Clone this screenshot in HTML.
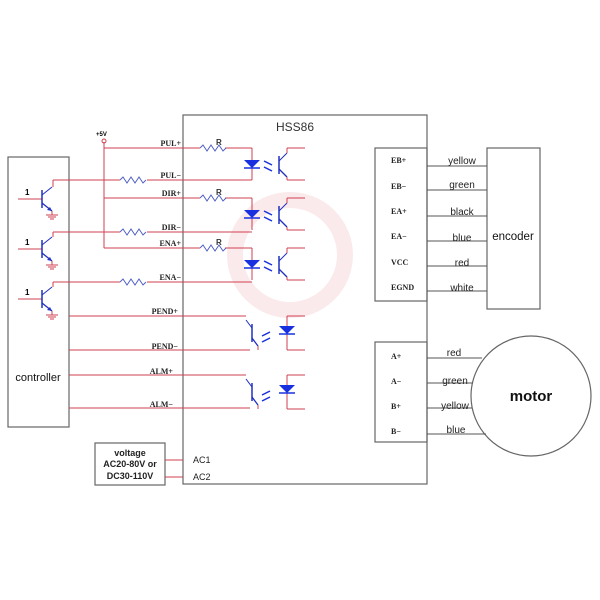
<!DOCTYPE html>
<html><head><meta charset="utf-8"><style>html,body{margin:0;padding:0;background:#fff}svg{display:block}</style></head><body>
<svg width="600" height="600" viewBox="0 0 600 600" xmlns="http://www.w3.org/2000/svg" font-family="Liberation Sans, sans-serif">
<defs>
<g id="rz"><path d="M0,0 l3,-3 l4,6 l4,-6 l4,6 l4,-6 l4,6 l3,-3" fill="none" stroke="#5060c0" stroke-width="1"/></g>
<g id="npn">
<line x1="0" y1="0" x2="24" y2="0" stroke="#d04050" stroke-width="1"/>
<line x1="24" y1="-9" x2="24" y2="9" stroke="#2030c0" stroke-width="1.5"/>
<line x1="24" y1="-4" x2="34" y2="-12" stroke="#2030c0" stroke-width="1"/>
<line x1="24" y1="4" x2="34" y2="12" stroke="#2030c0" stroke-width="1.3"/>
<polygon points="34,12 29,11 32,8" fill="#2030c0"/>
<line x1="34" y1="12" x2="34" y2="16" stroke="#d04050"/>
<line x1="28" y1="16" x2="40" y2="16" stroke="#d04050"/>
<line x1="30" y1="18" x2="38" y2="18" stroke="#d04050"/>
<line x1="32" y1="20" x2="36" y2="20" stroke="#d04050"/>
<text x="7" y="-4" font-size="8" font-weight="bold">1</text>
</g>
<g id="optin">
<line x1="0" y1="0" x2="0" y2="32" stroke="#d04050"/>
<polygon points="-8,12 8,12 0,20" fill="#1830e0"/>
<line x1="-8" y1="20" x2="8" y2="20" stroke="#1830e0" stroke-width="1.5"/>
<line x1="12" y1="13" x2="20" y2="17" stroke="#1830e0" stroke-width="1.5"/>
<line x1="12" y1="19" x2="20" y2="23" stroke="#1830e0" stroke-width="1.5"/>
<line x1="27" y1="8" x2="27" y2="26" stroke="#2030c0" stroke-width="1.5"/>
<line x1="27" y1="13" x2="35" y2="5" stroke="#2030c0"/>
<line x1="35" y1="5" x2="35" y2="0" stroke="#d04050"/>
<line x1="27" y1="21" x2="35" y2="29" stroke="#2030c0" stroke-width="1.3"/>
<line x1="35" y1="29" x2="35" y2="32" stroke="#d04050"/>
<line x1="35" y1="0" x2="53" y2="0" stroke="#d04050"/>
<line x1="35" y1="32" x2="53" y2="32" stroke="#d04050"/>
</g>
<g id="optout">
<line x1="0" y1="8" x2="0" y2="26" stroke="#2030c0" stroke-width="1.5"/>
<line x1="0" y1="12" x2="-6" y2="4" stroke="#2030c0"/>
<line x1="0" y1="22" x2="6" y2="30" stroke="#2030c0" stroke-width="1.3"/>
<line x1="6" y1="30" x2="6" y2="34" stroke="#d04050"/>
<line x1="10" y1="20" x2="18" y2="16" stroke="#1830e0" stroke-width="1.5"/>
<line x1="10" y1="26" x2="18" y2="22" stroke="#1830e0" stroke-width="1.5"/>
<line x1="35" y1="0" x2="35" y2="34" stroke="#d04050"/>
<polygon points="27,10 43,10 35,18" fill="#1830e0"/>
<line x1="27" y1="18" x2="43" y2="18" stroke="#1830e0" stroke-width="1.5"/>
<line x1="35" y1="0" x2="53" y2="0" stroke="#d04050"/>
<line x1="35" y1="34" x2="53" y2="34" stroke="#d04050"/>
</g>
</defs>
<circle cx="290" cy="255" r="55" fill="none" stroke="#fbeaec" stroke-width="16"/>
<g fill="none" stroke="#666" stroke-width="1.2">
<rect x="183" y="115" width="244" height="369"/>
<rect x="8" y="157" width="61" height="270"/>
<rect x="375" y="148" width="52" height="153"/>
<rect x="487" y="148" width="53" height="161"/>
<rect x="375" y="342" width="52" height="100"/>
<rect x="95" y="443" width="70" height="42"/>
<circle cx="531" cy="396" r="60"/>
</g>
<g stroke="#d04050" stroke-width="1" fill="none">
<path d="M104,148 H200 M225,148 H252"/>
<path d="M104,198 H200 M225,198 H252"/>
<path d="M104,248 H200 M225,248 H252"/>
<path d="M104,142 V248"/>
<path d="M53,180 H120 M147,180 H252"/>
<path d="M53,232 H120 M147,232 H252"/>
<path d="M53,282 H120 M147,282 H252"/>
<path d="M53,180 V187 M53,232 V237 M53,282 V287"/>
<path d="M69,316 H246 M69,350 H250 M69,375 H246 M69,408 H250"/>
<path d="M165,460 H183 M165,477 H183"/>
</g>
<circle cx="104" cy="141" r="2" fill="none" stroke="#d04050"/>
<text x="96" y="136" font-size="6" font-weight="bold">+5V</text>
<use href="#rz" x="200" y="148"/><use href="#rz" x="200" y="198"/><use href="#rz" x="200" y="248"/>
<use href="#rz" x="120" y="180"/><use href="#rz" x="120" y="232"/><use href="#rz" x="120" y="282"/>
<g font-size="8" font-weight="bold" fill="#333"><text x="216" y="145">R</text><text x="216" y="195">R</text><text x="216" y="245">R</text></g>
<use href="#npn" x="18" y="199"/><use href="#npn" x="18" y="249"/><use href="#npn" x="18" y="299"/>
<g font-family="Liberation Serif, serif" font-size="8" font-weight="bold" fill="#222" text-anchor="end">
<text x="181" y="146">PUL+</text><text x="181" y="178">PUL−</text><text x="181" y="196">DIR+</text><text x="181" y="230">DIR−</text><text x="181" y="246">ENA+</text><text x="181" y="280">ENA−</text><text x="178" y="314">PEND+</text><text x="178" y="349">PEND−</text><text x="173" y="374">ALM+</text><text x="173" y="407">ALM−</text>
</g>
<use href="#optin" x="252" y="148"/><use href="#optin" x="252" y="198"/><use href="#optin" x="252" y="248"/>
<use href="#optout" x="252" y="316"/><use href="#optout" x="252" y="375"/>
<text x="276" y="131" font-size="12" fill="#333">HSS86</text>
<g stroke="#555" stroke-width="1">
<path d="M427,166H487M427,190H487M427,216H487M427,241H487M427,266H487M427,291H487"/>
<path d="M427,358H482M427,383H473M427,408H472M427,434H486"/>
</g>
<g font-family="Liberation Serif, serif" font-size="8" font-weight="bold" fill="#222">
<text x="391" y="163">EB+</text><text x="391" y="189">EB−</text><text x="391" y="214">EA+</text><text x="391" y="239">EA−</text><text x="391" y="265">VCC</text><text x="391" y="290">EGND</text>
<text x="391" y="359">A+</text><text x="391" y="384">A−</text><text x="391" y="409">B+</text><text x="391" y="434">B−</text>
</g>
<g font-size="10" fill="#222" text-anchor="middle">
<text x="462" y="164">yellow</text><text x="462" y="188">green</text><text x="462" y="215">black</text><text x="462" y="241">blue</text><text x="462" y="266">red</text><text x="462" y="291">white</text>
<text x="454" y="356">red</text><text x="455" y="384">green</text><text x="455" y="409">yellow</text><text x="456" y="433">blue</text>
</g>
<text x="513" y="240" font-size="11.5" text-anchor="middle" fill="#111">encoder</text>
<text x="531" y="401" font-size="15" font-weight="bold" text-anchor="middle" fill="#111">motor</text>
<text x="38" y="381" font-size="11" text-anchor="middle" fill="#111">controller</text>
<g font-size="9" font-weight="bold" text-anchor="middle" fill="#222">
<text x="130" y="456">voltage</text><text x="130" y="467">AC20-80V or</text><text x="130" y="479">DC30-110V</text>
</g>
<g font-size="9" fill="#222"><text x="193" y="463">AC1</text><text x="193" y="480">AC2</text></g>
</svg>
</body></html>
